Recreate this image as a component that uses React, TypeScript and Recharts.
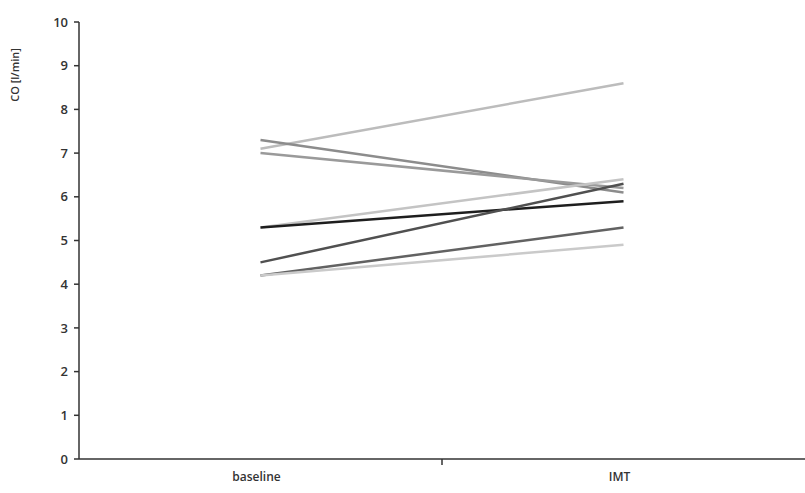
import React from 'react';
import { LineChart, Line, XAxis, YAxis } from 'recharts';

const categories = ['baseline', 'IMT'];
const baselineCO = [7.1, 7.3, 7.0, 5.3, 5.3, 4.5, 4.2, 4.2];
const imtCO = [8.6, 6.1, 6.2, 6.4, 5.9, 6.3, 5.3, 4.9];
const lineColors = ['#bcbcbc', '#8c8c8c', '#9a9a9a', '#c4c4c4', '#1e1e1e', '#505050', '#626262', '#cacaca'];
const yTicks = [0, 1, 2, 3, 4, 5, 6, 7, 8, 9, 10];

const data = categories.map((name, i) => {
  const row: Record<string, any> = { x: i + 0.5, name };
  baselineCO.forEach((_, k) => {
    row['s' + k] = i === 0 ? baselineCO[k] : imtCO[k];
  });
  return row;
});

const XTick = (props: any) => {
  const { x, y, payload } = props;
  if (payload.value === 1) {
    return <line x1={x} x2={x} y1={y - 8} y2={y - 2} stroke="#333" strokeWidth={1.5} />;
  }
  const label = categories[Math.round(payload.value - 0.5)];
  return (
    <text x={x - 4} y={y + 14} textAnchor="middle" fontSize={12} fontWeight={600} fill="#333" fontFamily="Open Sans">
      {label}
    </text>
  );
};

export default function App() {
  return (
    <div style={{ position: 'absolute', left: 0, top: 0, background: '#fff' }}>
      <LineChart width={805} height={493} data={data} margin={{ top: 22, right: 0, left: 0, bottom: 4 }}>
        <XAxis
          dataKey="x"
          type="number"
          domain={[0, 2]}
          ticks={[0.5, 1, 1.5]}
          tick={<XTick />}
          tickLine={false}
          height={30}
          stroke="#333"
          strokeWidth={1.5}
          allowDataOverflow
        />
        <YAxis
          domain={[0, 10]}
          ticks={yTicks}
          width={79}
          tickSize={5}
          tickMargin={6}
          stroke="#333"
          strokeWidth={1.5}
          tick={{ fontSize: 13, fontWeight: 600, fill: '#333', fontFamily: 'Open Sans' }}
          label={{
            content: () => (
              <text x={19} y={75} transform="rotate(-90 19 75)" textAnchor="middle" fontSize={11} fontWeight={600} fill="#333" fontFamily="Open Sans">
                CO [l/min]
              </text>
            ),
          }}
        />
        {baselineCO.map((_, k) => (
          <Line
            key={k}
            dataKey={'s' + k}
            stroke={lineColors[k]}
            strokeWidth={2.5}
            dot={false}
            type="linear"
            isAnimationActive={false}
          />
        ))}
      </LineChart>
    </div>
  );
}
